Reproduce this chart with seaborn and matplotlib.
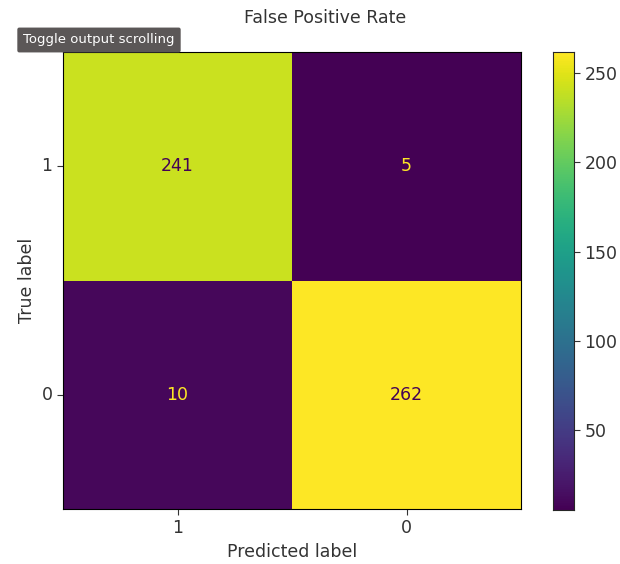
import numpy as np
import pandas as pd
import matplotlib
matplotlib.use("Agg")
import matplotlib.pyplot as plt
import seaborn as sns

# Confusion matrix: rows = true label, columns = predicted label
labels = ["1", "0"]
row_true_1 = [241, 5]
row_true_0 = [10, 262]

cm = pd.DataFrame([row_true_1, row_true_0], index=labels, columns=labels)

sns.set_style("white")
plt.rcParams["font.family"] = ["DejaVu Sans"]
plt.rcParams["font.size"] = 13

fig = plt.figure(figsize=(6.2, 5.64), dpi=100)
ax = fig.add_axes([63 / 620, 1 - 509 / 564, 458 / 620, 457 / 564])
cax = fig.add_axes([553 / 620, 1 - 510 / 564, 21 / 620, 458 / 564])

cmap = plt.get_cmap("viridis")
vmin, vmax = cm.values.min(), cm.values.max()
sns.heatmap(cm, ax=ax, cbar_ax=cax, cmap=cmap, vmin=vmin, vmax=vmax,
            annot=True, fmt="d", annot_kws={"fontsize": 12.5}, square=False,
            linewidths=0)

# Text colour: dark on bright cells, bright on dark cells
mid = (vmin + vmax) / 2
for txt, val in zip(ax.texts, cm.values.ravel()):
    txt.set_color(cmap(1.0) if val < mid else cmap(0.0))

for side in ["left", "right", "top", "bottom"]:
    ax.spines[side].set_visible(True)
    ax.spines[side].set_color("black")
    ax.spines[side].set_linewidth(0.8)
    cax.spines[side].set_visible(True)
    cax.spines[side].set_linewidth(0.8)
cax.set_frame_on(True)

ax.tick_params(axis="both", which="both", length=4, width=0.8, color="#333333",
               labelsize=12.5, labelcolor="#333333", left=True, bottom=True)
ax.set_yticklabels(labels, rotation=0)
ax.set_xticklabels(labels, rotation=0)
ax.set_xlabel("Predicted label", fontsize=12.5, color="#333333")
ax.set_ylabel("True label", fontsize=12.5, color="#333333")

cax.set_yticks([50, 100, 150, 200, 250])
cax.tick_params(axis="y", length=4, width=0.8, color="#333333", labelsize=12.5,
                labelcolor="#333333", right=True)

fig.text(325 / 620, 1 - 18 / 564, "False Positive Rate", ha="center", va="center",
         fontsize=12.5, color="#333333")

fig.text(99 / 620, 1 - 40 / 564, "Toggle output scrolling", ha="center", va="center",
         fontsize=9.5, color="white",
         bbox=dict(boxstyle="round,pad=0.45,rounding_size=0.15",
                   facecolor="#5b5757", edgecolor="none"))

fig.savefig("out.png", dpi=100)
